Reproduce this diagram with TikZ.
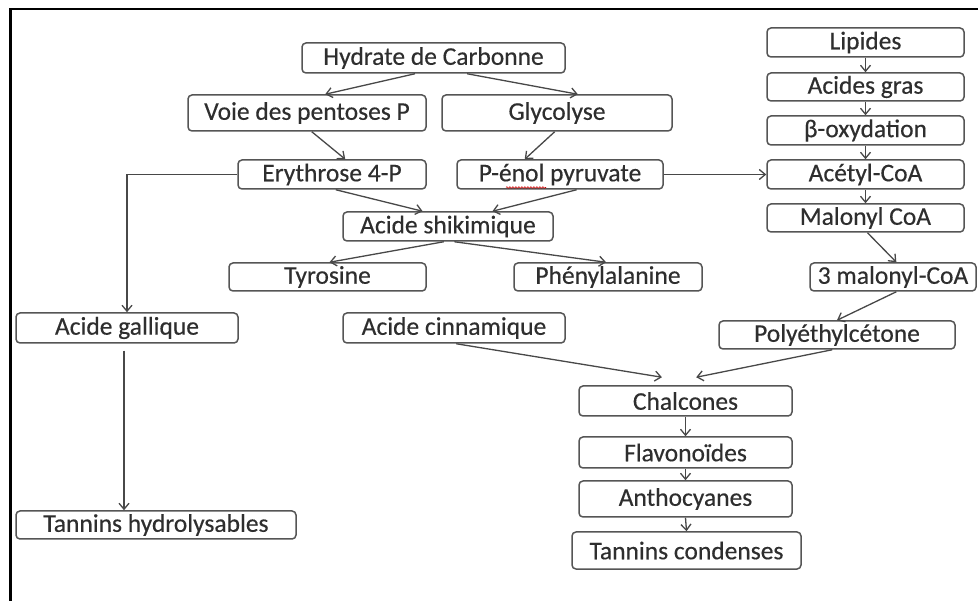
\documentclass[tikz,border=0pt]{standalone}
\usepackage{fontspec}
\setmainfont{Carlito}
\newfontfamily\boxfont[BoldFont={Carlito}, BoldFeatures={FakeBold=0.35}]{Carlito}
\usetikzlibrary{arrows.meta,calc,decorations.pathmorphing}
\definecolor{txt}{HTML}{2E2E2E}
\definecolor{bx}{HTML}{555555}
\definecolor{ln}{HTML}{484848}
\begin{document}
\begin{tikzpicture}[x=1pt,y=-1pt,
  box/.style={draw=bx, line width=1.5pt, rounded corners=4pt, inner sep=0pt, text=txt,
    font=\boxfont\bfseries\fontsize{25.5}{28}\selectfont, anchor=center},
  arr/.style={draw=ln, line width=1.3pt, -{Straight Barb[length=6pt,width=10pt]}}]
\useasboundingbox (0,0) rectangle (978,601);
\fill[white] (0,0) rectangle (978,601);
\draw[line width=2.5pt] (10.5,601) -- (10.5,9) -- (978,9);

% left / middle nodes
\node[box, minimum width=263pt, minimum height=30pt] (hc)   at (433.5,58)  {Hydrate de Carbonne};
\node[box, minimum width=238pt, minimum height=36pt] (voie) at (307,113)   {Voie des pentoses P};
\node[box, minimum width=230pt, minimum height=36pt] (gly)  at (557,113)   {Glycolyse};
\node[box, minimum width=188pt, minimum height=29pt] (ery)  at (332,174.5) {Erythrose 4-P};
\node[box, minimum width=206pt, minimum height=29pt] (pep)  at (560,174.5) {P-énol pyruvate};
\node[box, minimum width=210pt, minimum height=29pt] (shik) at (448,226.5) {Acide shikimique};
\node[box, minimum width=197pt, minimum height=28pt] (tyr)  at (327.5,277) {Tyrosine};
\node[box, minimum width=188pt, minimum height=28pt] (phe)  at (608,277)   {Phénylalanine};
\node[box, minimum width=222pt, minimum height=30pt] (gal)  at (127,328)   {Acide gallique};
\node[box, minimum width=222pt, minimum height=30pt] (cin)  at (454,328)   {Acide cinnamique};
\node[box, minimum width=280pt, minimum height=28pt] (tanh) at (156,525)   {Tannins hydrolysables};

% right column
\node[box, minimum width=197pt, minimum height=29pt] (lip)  at (865.5,42.5)  {Lipides};
\node[box, minimum width=197pt, minimum height=28pt] (ag)   at (865.5,87)    {Acides gras};
\node[box, minimum width=197pt, minimum height=29pt] (box)  at (865.5,130.5) {β-oxydation};
\node[box, minimum width=197pt, minimum height=29pt] (acet) at (865.5,174.5) {Acétyl-CoA};
\node[box, minimum width=197pt, minimum height=28pt] (mal)  at (865.5,218)   {Malonyl CoA};
\node[box, minimum width=166pt, minimum height=28pt] (m3)   at (893,277)     {3 malonyl-CoA};
\node[box, minimum width=236pt, minimum height=28pt] (poly) at (837,335)     {Polyéthylcétone};

% bottom column
\node[box, minimum width=213pt, minimum height=30pt] (chal) at (685.5,401)   {Chalcones};
\node[box, minimum width=213pt, minimum height=31pt] (flav) at (685.5,452.5) {Flavonoïdes};
\node[box, minimum width=213pt, minimum height=36pt] (anth) at (685.5,499)   {Anthocyanes};
\node[box, minimum width=229pt, minimum height=37pt] (tanc) at (686.5,550.5) {Tannins condenses};

% spell-check underline
\draw[red!80!black, line width=0.6pt, decorate, decoration={snake, amplitude=0.8pt, segment length=3pt}]
  ($(pep.center)+(-54,13)$) -- ($(pep.center)+(-14,13)$);

% connectors
\draw[arr] ($(hc.south west)!0.43!(hc.south east)$) -- ($(voie.north west)!0.576!(voie.north east)$);
\draw[arr] ($(hc.south west)!0.627!(hc.south east)$) -- ($(gly.north west)!0.59!(gly.north east)$);
\draw[arr] ($(voie.south west)!0.52!(voie.south east)$) -- ($(ery.north west)!0.57!(ery.north east)$);
\draw[arr] ($(gly.south west)!0.49!(gly.south east)$) -- ($(pep.north west)!0.33!(pep.north east)$);
\draw[arr] ($(ery.south west)!0.52!(ery.south east)$) -- ($(shik.north west)!0.38!(shik.north east)$);
\draw[arr] ($(pep.south west)!0.58!(pep.south east)$) -- ($(shik.north west)!0.71!(shik.north east)$);
\draw[arr] (pep.east) -- (acet.west);
\draw[arr] ($(shik.south west)!0.48!(shik.south east)$) -- ($(tyr.north west)!0.51!(tyr.north east)$);
\draw[arr] ($(shik.south west)!0.53!(shik.south east)$) -- ($(phe.north west)!0.49!(phe.north east)$);
\draw[arr] (ery.west) -| (gal.north);
\coordinate (galout) at ($(gal.south)+(-3,7)$);
\draw[arr] (galout) -- (galout |- tanh.north);

\draw[arr] (lip.south) -- (ag.north);
\draw[arr] (ag.south) -- (box.north);
\draw[arr] (box.south) -- (acet.north);
\draw[arr] (acet.south) -- (mal.north);
\draw[arr] ($(mal.south west)!0.51!(mal.south east)$) -- ($(m3.north west)!0.52!(m3.north east)$);
\draw[arr] ($(m3.south west)!0.52!(m3.south east)$) -- ($(poly.north west)!0.50!(poly.north east)$);

\draw[arr] ($(cin.south west)!0.51!(cin.south east)$) -- ($($(chal.north west)!0.39!(chal.north east)$)+(0,-8)$);
\draw[arr] ($(poly.south west)!0.48!(poly.south east)$) -- ($($(chal.north west)!0.55!(chal.north east)$)+(0,-8)$);
\draw[arr] (chal.south) -- (flav.north);
\draw[arr] (flav.south) -- (anth.north);
\draw[arr] (anth.south) -- (tanc.north);
\end{tikzpicture}
\end{document}
